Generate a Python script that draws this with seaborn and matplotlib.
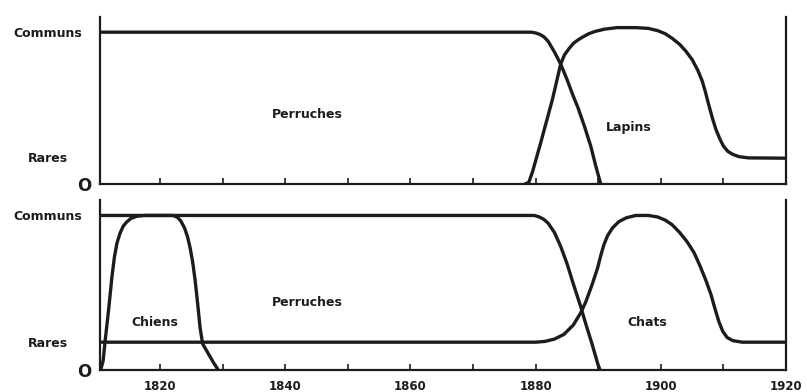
import numpy as np
import pandas as pd
import matplotlib
matplotlib.use("Agg")
import matplotlib.pyplot as plt
import matplotlib.transforms as mtrans
import seaborn as sns

# ---------------- data ----------------
# y scale: 0 = absent, RARES = rare, 1 = common
RARES = 0.18

top_perruches_x = [1810.4, 1879.3, 1880, 1880.7, 1881.3, 1882, 1883, 1884, 1885, 1886, 1886.7, 1887.8, 1888.8, 1889.6, 1890.4]
top_perruches_y = [1.0, 1.0, 0.995, 0.985, 0.97, 0.94, 0.87, 0.79, 0.69, 0.58, 0.51, 0.38, 0.25, 0.12, 0.0]

lapins_x = [1878.3, 1878.9, 1879.5, 1880.8, 1882.7, 1884, 1884.6, 1885.3, 1886, 1886.8, 1887.6, 1888.5, 1889.5,
            1891, 1893, 1896, 1898, 1899.5, 1900.7, 1901.8, 1903, 1904, 1905, 1905.9, 1906.6, 1907.1, 1907.6,
            1908.2, 1908.8, 1909.4, 1910, 1910.7, 1911.5, 1912.5, 1914, 1920]
lapins_y = [0.0, 0.01, 0.08, 0.27, 0.56, 0.79, 0.85, 0.89, 0.925, 0.95, 0.97, 0.99, 1.005,
            1.02, 1.03, 1.03, 1.025, 1.01, 0.99, 0.96, 0.92, 0.875, 0.82, 0.75, 0.68, 0.61, 0.53,
            0.44, 0.36, 0.3, 0.25, 0.215, 0.195, 0.18, 0.172, 0.17]

bot_perruches_x = [1810.4, 1879.8, 1880.6, 1881.3, 1882, 1883, 1884, 1885, 1886, 1887.2, 1888, 1889, 1890, 1890.3]
bot_perruches_y = [1.0, 1.0, 0.99, 0.975, 0.95, 0.89, 0.8, 0.69, 0.56, 0.41, 0.3, 0.17, 0.03, 0.0]

chiens_x = [1810.5, 1810.9, 1811.2, 1811.8, 1812.3, 1812.7, 1813.1, 1813.6, 1814.1, 1814.6, 1815.3, 1816.3, 1817.5,
            1822, 1822.7, 1823.3, 1823.9, 1824.4, 1824.8, 1825.2, 1825.6, 1826, 1826.4, 1826.8, 1827.5, 1828.5, 1829.3]
chiens_y = [0.0, 0.06, 0.18, 0.4, 0.6, 0.73, 0.82, 0.885, 0.93, 0.955, 0.98, 0.995, 1.0,
            1.0, 0.99, 0.965, 0.92, 0.86, 0.79, 0.7, 0.58, 0.43, 0.27, 0.17, 0.12, 0.05, 0.0]

chats_x = [1810.4, 1880, 1881.5, 1883, 1884.5, 1886, 1887.2, 1888, 1889, 1889.9, 1890.4, 1890.9, 1891.5,
           1892.3, 1893.3, 1894.5, 1896, 1898, 1899.5, 1900.7, 1901.8, 1903, 1904.2, 1905.3, 1906.3, 1907.2,
           1908, 1908.7, 1909.3, 1909.9, 1910.6, 1911.5, 1913, 1920]
chats_y = [0.18, 0.18, 0.185, 0.2, 0.23, 0.29, 0.37, 0.44, 0.55, 0.66, 0.74, 0.81, 0.87,
           0.92, 0.96, 0.985, 1.0, 1.0, 0.99, 0.97, 0.94, 0.89, 0.83, 0.76, 0.67, 0.58,
           0.49, 0.39, 0.31, 0.25, 0.21, 0.19, 0.18, 0.18]

ytick_values = [0, RARES, 1]
ytick_labels = ["O", "Rares", "Communs"]
xtick_values = [1820, 1830, 1840, 1850, 1860, 1870, 1880, 1890, 1900, 1910, 1920]
xtick_labels = ["1820", "", "1840", "", "1860", "", "1880", "", "1900", "", "1920"]

top_labels = [("Perruches", 1843.5, 0.46), ("Lapins", 1894.9, 0.37)]
bot_labels = [("Perruches", 1843.5, 0.435), ("Chiens", 1819.2, 0.305), ("Chats", 1897.9, 0.305)]

# ---------------- drawing ----------------
sns.set_style("white")
plt.rcParams['font.family'] = ['DejaVu Sans']
INK = "#1c1c1c"

fig = plt.figure(figsize=(8.07, 3.92), dpi=100)
ax1 = fig.add_axes([100/807, (392-184)/392, 686/807, 167/392])
ax2 = fig.add_axes([100/807, (392-370)/392, 686/807, 170/392])

def draw(ax, series, labels, show_x):
    for xs, ys in series:
        df = pd.DataFrame({"x": xs, "y": ys})
        sns.lineplot(data=df, x="x", y="y", ax=ax, color=INK, lw=2.4,
                     sort=False, estimator=None,
                     solid_joinstyle="round", solid_capstyle="round")
    for txt, x, y in labels:
        ax.text(x, y, txt, ha="center", va="center", fontsize=9, fontweight="bold", color=INK)
    ax.set_xlim(1810.4, 1920)
    ax.set_ylim(0, 1.1)
    ax.set_xlabel("")
    ax.set_ylabel("")
    for s in ["left", "right", "bottom"]:
        ax.spines[s].set_visible(True)
        ax.spines[s].set_color(INK)
        ax.spines[s].set_linewidth(1.6)
    ax.spines["top"].set_visible(False)
    ax.set_xticks(xtick_values)
    ax.set_xticklabels(xtick_labels if show_x else [""] * len(xtick_values))
    ax.tick_params(axis="x", direction="in", length=4, width=1.2, color=INK,
                   pad=7, labelsize=8.5, bottom=True)
    for lab in ax.get_xticklabels():
        lab.set_fontweight("bold")
        lab.set_color(INK)
    ax.set_yticks(ytick_values)
    ax.set_yticklabels(ytick_labels)
    ax.tick_params(axis="y", length=0, pad=6, left=True)
    offsets = [0.0, -0.24, -0.10]
    sizes = [12, 9, 9]
    for lab, dx, fs in zip(ax.get_yticklabels(), offsets, sizes):
        lab.set_fontweight("bold")
        lab.set_fontsize(fs)
        lab.set_color(INK)
        lab.set_transform(lab.get_transform() + mtrans.ScaledTranslation(dx, 0, fig.dpi_scale_trans))

draw(ax1, [(top_perruches_x, top_perruches_y), (lapins_x, lapins_y)], top_labels, False)
draw(ax2, [(bot_perruches_x, bot_perruches_y), (chiens_x, chiens_y), (chats_x, chats_y)], bot_labels, True)

fig.savefig("out.png", dpi=100, facecolor="white")
